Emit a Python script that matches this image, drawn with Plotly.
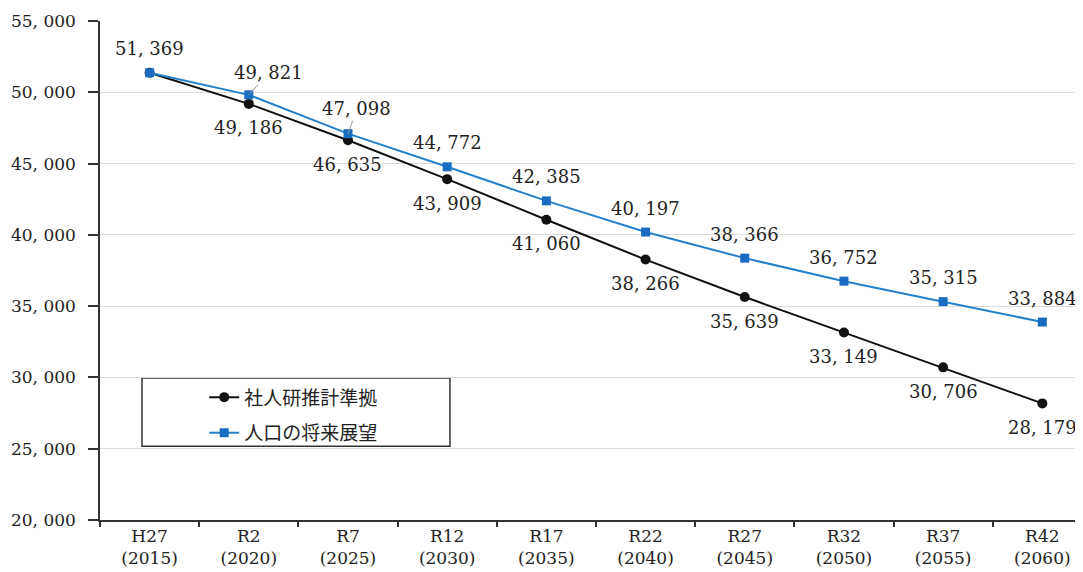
import plotly.graph_objects as go

# 年次ラベル
nenji = ["H27", "R2", "R7", "R12", "R17", "R22", "R27", "R32", "R37", "R42"]
nen = ["2015", "2020", "2025", "2030", "2035", "2040", "2045", "2050", "2055", "2060"]

# 社人研推計準拠
shajinken = [51369, 49186, 46635, 43909, 41060, 38266, 35639, 33149, 30706, 28179]
# 人口の将来展望
tenbou = [51369, 49821, 47098, 44772, 42385, 40197, 38366, 36752, 35315, 33884]

y_ticks = [20000, 25000, 30000, 35000, 40000, 45000, 50000, 55000]

SERIF = "DejaVu Serif, Liberation Serif, serif"
JP = "Noto Sans CJK JP"
SCHWARZ = "#111111"
BLAU = "#2580cc"
TEXT = "#222222"


def kanma(v):
    """51369 -> '51, 369'"""
    return f"{v:,}".replace(",", ", ")


x_kat = [f"{a}<br>({b})" for a, b in zip(nenji, nen)]
idx = list(range(len(nenji)))

fig = go.Figure()
fig.add_trace(go.Scatter(
    x=idx, y=shajinken, mode="lines+markers", name="社人研推計準拠",
    line=dict(color=SCHWARZ, width=2),
    marker=dict(symbol="circle", size=10, color=SCHWARZ),
    legendgroup="a",
))
fig.add_trace(go.Scatter(
    x=idx, y=tenbou, mode="lines+markers", name="人口の将来展望",
    line=dict(color=BLAU, width=2),
    marker=dict(symbol="square", size=9, color="#1a6cc0"),
    legendgroup="b",
))

# データラベル
lab_font = dict(family=SERIF, size=18, color=TEXT)
versatz = {1: (20, -22), 2: (9, -25)}  # 引出線付きラベル
for i, v in enumerate(shajinken[1:], start=1):
    fig.add_annotation(x=i, y=v, text=kanma(v), showarrow=False,
                       yshift=-24, font=lab_font)
for i, v in enumerate(tenbou):
    if i in versatz:
        ax, ay = versatz[i]
        fig.add_annotation(x=i, y=v, text=kanma(v), showarrow=True,
                           arrowhead=0, arrowwidth=1, arrowcolor="#999",
                           ax=ax, ay=ay, font=lab_font)
    else:
        fig.add_annotation(x=i, y=v, text=kanma(v), showarrow=False,
                           yshift=24, font=lab_font)

# 凡例の枠
fig.add_shape(type="rect", xref="paper", yref="paper",
              x0=0.0427, x1=0.356, y0=0.148, y1=0.2846,
              line=dict(color="#333", width=1.5), fillcolor="white", layer="below")

fig.update_layout(
    width=1083, height=572,
    margin=dict(l=92, r=8, t=13, b=60, autoexpand=False),
    plot_bgcolor="white", paper_bgcolor="white",
    showlegend=True,
    legend=dict(x=0.106, y=0.284, xanchor="left", yanchor="top",
                bgcolor="rgba(0,0,0,0)", borderwidth=0,
                font=dict(family=JP, size=19, color=TEXT),
                tracegroupgap=8),
)
fig.update_xaxes(
    type="linear", range=[-0.5, 9.41], automargin=False,
    tickvals=idx, ticktext=x_kat, ticks="",
    showgrid=False, zeroline=False,
    showline=True, linecolor="#333", linewidth=1.5,
    minor=dict(tickvals=[i + 0.5 for i in range(-1, 10)], ticks="outside",
               ticklen=5, tickcolor="#333", tickwidth=1.5, showgrid=False),
    tickfont=dict(family=SERIF, size=17, color=TEXT),
)
fig.update_yaxes(
    range=[20000, 55000], automargin=False,
    tickvals=y_ticks, ticktext=[kanma(v) for v in y_ticks],
    ticks="outside", ticklen=10, tickcolor="#333", tickwidth=1.5,
    ticklabelstandoff=9,
    showgrid=True, gridcolor="#dcdcdc", gridwidth=1, zeroline=False,
    showline=True, linecolor="#333", linewidth=1.5,
    tickfont=dict(family=SERIF, size=17, color=TEXT),
)

fig.write_html("out.html")
